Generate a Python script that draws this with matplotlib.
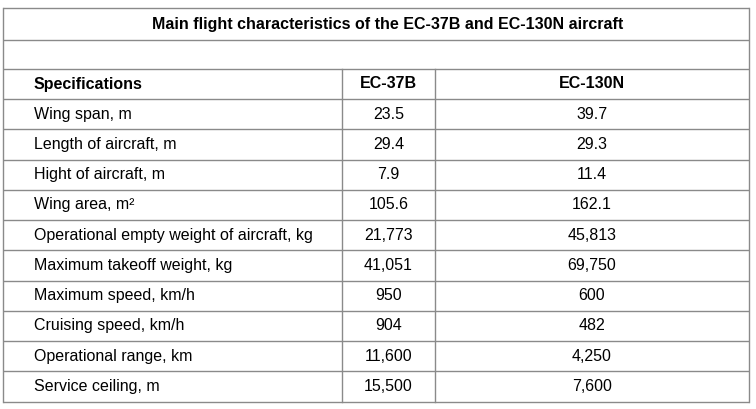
import matplotlib
matplotlib.use("Agg")
import matplotlib.pyplot as plt

title = "Main flight characteristics of the EC-37B and EC-130N aircraft"
col_headers = ["Specifications", "EC-37B", "EC-130N"]
specs = [
    "Wing span, m",
    "Length of aircraft, m",
    "Hight of aircraft, m",
    "Wing area, m\u00b2",
    "Operational empty weight of aircraft, kg",
    "Maximum takeoff weight, kg",
    "Maximum speed, km/h",
    "Cruising speed, km/h",
    "Operational range, km",
    "Service ceiling, m",
]
ec37b = ["23.5", "29.4", "7.9", "105.6", "21,773", "41,051", "950", "904", "11,600", "15,500"]
ec130n = ["39.7", "29.3", "11.4", "162.1", "45,813", "69,750", "600", "482", "4,250", "7,600"]

W, H = 756, 409
fig = plt.figure(figsize=(W / 100, H / 100), dpi=100)
ax = fig.add_axes([0, 0, 1, 1])
ax.set_xlim(0, W)
ax.set_ylim(H, 0)
ax.axis("off")

plt.rcParams["font.family"] = ["Liberation Sans", "DejaVu Sans"]
fs = 11.5
lc = "#8a8a8a"
lw = 1.0

x0, x1, x2, x3 = 3, 342, 435, 749
y_top, y_title, y_empty, y_head = 8, 40, 69, 99
y_bot = 401.5
n = len(specs)
row_h = (y_bot - y_head) / n

# horizontal lines
ys = [y_top, y_title, y_empty, y_head] + [y_head + row_h * (i + 1) for i in range(n)]
for y in ys:
    ax.plot([x0, x3], [y, y], color=lc, lw=lw, solid_capstyle="butt")
# vertical lines
for x in (x0, x3):
    ax.plot([x, x], [y_top, y_bot], color=lc, lw=lw)
for x in (x1, x2):
    ax.plot([x, x], [y_empty, y_bot], color=lc, lw=lw)

ax.text(388, (y_top + y_title) / 2, title, ha="center", va="center",
        fontsize=fs, fontweight="bold")

yc = (y_empty + y_head) / 2
ax.text(34, yc, col_headers[0], ha="left", va="center", fontsize=fs, fontweight="bold")
ax.text((x1 + x2) / 2, yc, col_headers[1], ha="center", va="center", fontsize=fs, fontweight="bold")
ax.text((x2 + x3) / 2, yc, col_headers[2], ha="center", va="center", fontsize=fs, fontweight="bold")

for i in range(n):
    yc = y_head + row_h * (i + 0.5)
    ax.text(34, yc, specs[i], ha="left", va="center", fontsize=fs)
    ax.text((x1 + x2) / 2, yc, ec37b[i], ha="center", va="center", fontsize=fs)
    ax.text((x2 + x3) / 2, yc, ec130n[i], ha="center", va="center", fontsize=fs)

fig.savefig("out.png", dpi=100, facecolor="white")
